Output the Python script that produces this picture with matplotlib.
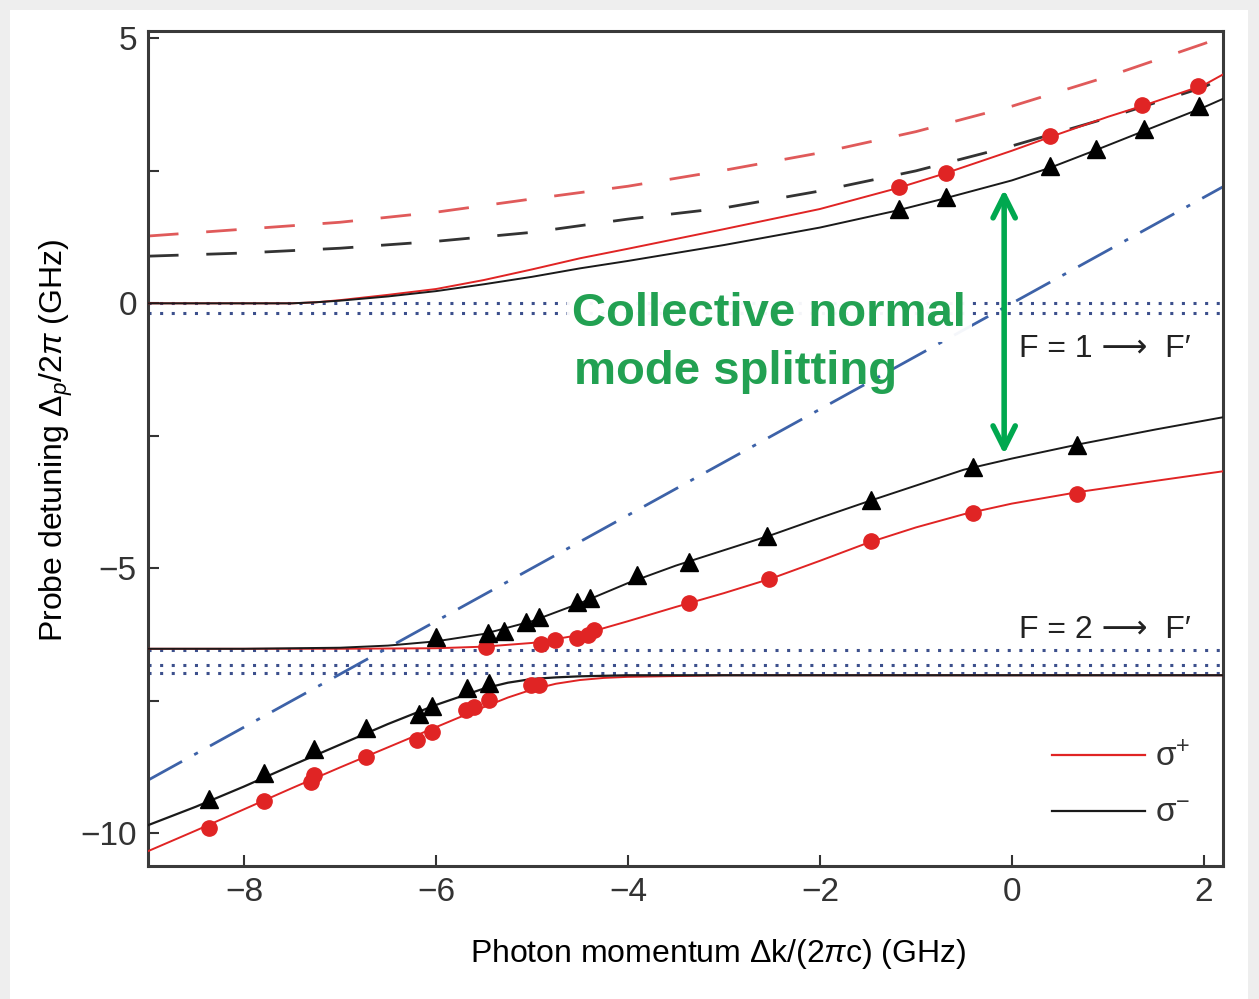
import numpy as np
import matplotlib
matplotlib.use("Agg")
import matplotlib.pyplot as plt
from matplotlib.patches import FancyBboxPatch
from matplotlib.lines import Line2D

plt.rcParams['font.family'] = ['Liberation Sans', 'DejaVu Sans']
plt.rcParams['mathtext.fontset'] = 'custom'
plt.rcParams['mathtext.rm'] = 'Liberation Sans'
plt.rcParams['mathtext.it'] = 'Liberation Sans:italic'

# ---- theory curves ----
up_red_x = [-9, -8, -7.5, -7.25, -7, -6.5, -6, -5.5, -5, -4.5, -4, -3, -2, -1.2, -0.7, 0, 0.4, 1, 1.4, 2, 2.2]
up_red_y = [0, 0, 0, 0.02, 0.06, 0.16, 0.27, 0.44, 0.64, 0.85, 1.03, 1.40, 1.78, 2.17, 2.45, 2.88, 3.14, 3.52, 3.75, 4.12, 4.32]
up_blk_x = [-9, -8, -7.5, -7.25, -7, -6.5, -6, -5.5, -5, -4.5, -4, -3, -2, -1.2, -0.7, 0, 0.4, 0.9, 1.4, 2, 2.2]
up_blk_y = [0, 0, 0, 0.02, 0.05, 0.13, 0.23, 0.36, 0.50, 0.66, 0.80, 1.10, 1.43, 1.75, 1.98, 2.32, 2.56, 2.91, 3.27, 3.70, 3.86]

dash_x = [-9, -8, -7, -6, -5, -4, -3, -2, -1, 0, 1, 2, 2.2]
dash_red_y = [1.27, 1.40, 1.53, 1.72, 1.97, 2.21, 2.51, 2.84, 3.24, 3.72, 4.28, 4.90, 5.03]
dash_blk_y = [0.89, 0.95, 1.04, 1.17, 1.34, 1.59, 1.80, 2.12, 2.50, 2.97, 3.50, 4.08, 4.26]

mid_blk_x = [-9, -8, -7, -6.5, -6, -5.5, -5, -4.5, -4, -3.5, -3, -2.5, -2, -1.5, -1, -0.5, 0, 0.7, 1.5, 2.2]
mid_blk_y = [-6.52, -6.52, -6.50, -6.46, -6.38, -6.24, -6.00, -5.66, -5.28, -4.95, -4.66, -4.37, -4.05, -3.74, -3.44, -3.14, -2.93, -2.66, -2.38, -2.15]
mid_red_x = [-9, -7, -6, -5.5, -5, -4.5, -4, -3.5, -3, -2.5, -2, -1.5, -1, -0.5, 0, 0.7, 1.5, 2.2]
mid_red_y = [-6.52, -6.52, -6.51, -6.48, -6.41, -6.26, -6.00, -5.73, -5.47, -5.19, -4.86, -4.52, -4.23, -3.98, -3.78, -3.56, -3.35, -3.17]

low_x = [-9, -8.5, -8, -7.5, -7, -6.5, -6, -5.5, -5.25, -5, -4.75, -4.5, -4.25, -4, -3, 2.2]
low_blk_y = [-9.85, -9.50, -9.12, -8.72, -8.33, -7.94, -7.58, -7.27, -7.16, -7.09, -7.06, -7.04, -7.03, -7.02, -7.02, -7.02]
low_red_y = [-10.34, -9.95, -9.55, -9.15, -8.76, -8.38, -8.00, -7.62, -7.44, -7.29, -7.18, -7.11, -7.07, -7.05, -7.02, -7.02]

photon_x = [-9, 2.2]
photon_y = [-9, 2.2]

f1_levels = [0.0, -0.19]
f2_levels = [-6.55, -6.82, -6.98]

# ---- measured points ----
red_x = [-1.18, -0.69, 0.40, 1.36, 1.94,
         -5.48, -4.91, -4.76, -4.53, -4.42, -4.35, -3.36, -2.53, -1.47, -0.40, 0.68,
         -8.36, -7.79, -7.30, -7.27, -6.73, -6.20, -6.04, -5.69, -5.60, -5.45, -5.01, -4.93]
red_y = [2.19, 2.46, 3.16, 3.74, 4.10,
         -6.49, -6.43, -6.35, -6.31, -6.26, -6.16, -5.65, -5.20, -4.48, -3.95, -3.59,
         -9.91, -9.40, -9.04, -8.90, -8.56, -8.24, -8.09, -7.67, -7.62, -7.49, -7.20, -7.20]
blk_x = [-1.18, -0.69, 0.40, 0.875, 1.375, 1.95,
         -6.0, -5.46, -5.29, -5.06, -4.93, -4.53, -4.39, -3.91, -3.36, -2.55, -1.47, -0.40, 0.68,
         -8.36, -7.79, -7.27, -6.73, -6.18, -6.04, -5.68, -5.45]
blk_y = [1.78, 2.00, 2.59, 2.91, 3.29, 3.72,
         -6.29, -6.22, -6.18, -6.01, -5.92, -5.63, -5.56, -5.12, -4.88, -4.39, -3.71, -3.08, -2.67,
         -9.36, -8.87, -8.41, -8.02, -7.75, -7.60, -7.26, -7.16]

split_x = -0.08
split_top = 2.15
split_bottom = -2.85

RED = '#e02424'
BLK = '#1a1a1a'
GREEN = '#00a84f'
DOT = '#3c4f8c'

fig = plt.figure(figsize=(12.59, 9.99), dpi=100, facecolor='#eeeeee')
fig.patches.append(FancyBboxPatch((10 / 1259, 0), 1238 / 1259, 989 / 999,
                                  boxstyle='square,pad=0', transform=fig.transFigure,
                                  facecolor='white', edgecolor='none', zorder=-10))
ax = fig.add_axes([148 / 1259, 133 / 999, (1223 - 148) / 1259, (866 - 31) / 999])
ax.set_facecolor('white')

for lv in f1_levels + f2_levels:
    ax.axhline(lv, color=DOT, lw=2.2, ls=(0, (1, 2.8)), zorder=1)

ax.plot(photon_x, photon_y, color='#3d62a8', lw=2, ls=(0, (14, 5, 1.5, 5)), zorder=2)

ax.plot(dash_x, dash_red_y, color='#e05a5a', lw=2, ls=(0, (11, 10)), zorder=2)
ax.plot(dash_x, dash_blk_y, color='#333333', lw=2, ls=(0, (11, 10)), zorder=2)

ax.plot(up_red_x, up_red_y, color=RED, lw=1.4, zorder=3)
ax.plot(mid_red_x, mid_red_y, color=RED, lw=1.4, zorder=3)
ax.plot(low_x, low_red_y, color=RED, lw=1.4, zorder=3)
ax.plot(up_blk_x, up_blk_y, color=BLK, lw=1.4, zorder=3)
ax.plot(mid_blk_x, mid_blk_y, color=BLK, lw=1.4, zorder=3)
ax.plot(low_x, low_blk_y, color=BLK, lw=1.6, zorder=3)

ax.plot(red_x, red_y, 'o', color=RED, ms=11, mec=RED, zorder=4)
ax.plot(blk_x, blk_y, '^', color='black', ms=13, zorder=4)

ax.text(-4.58, -0.2, 'Collective normal', color='#22a152', fontsize=34, fontweight='bold',
        ha='left', va='center', zorder=5,
        bbox=dict(facecolor='white', edgecolor='none', pad=4, alpha=0.95))
ax.text(-4.56, -1.3, 'mode splitting', color='#22a152', fontsize=34, fontweight='bold',
        ha='left', va='center', zorder=5)

ax.annotate('', xy=(split_x, split_top), xytext=(split_x, split_bottom),
            arrowprops=dict(arrowstyle='<->', color=GREEN, lw=4, mutation_scale=40,
                            shrinkA=0, shrinkB=0), zorder=6)

ax.text(0.07, -0.87, 'F = 1 ⟶  F′', fontsize=23, color='#222222', ha='left', va='center',
        family=['Liberation Sans', 'DejaVu Sans'], zorder=5)
ax.text(0.07, -6.16, 'F = 2 ⟶  F′', fontsize=23, color='#222222', ha='left', va='center',
        family=['Liberation Sans', 'DejaVu Sans'], zorder=5)

handles = [Line2D([], [], color=RED, lw=1.6), Line2D([], [], color=BLK, lw=1.6)]
ax.legend(handles, ['σ$^{+}$', 'σ$^{-}$'], loc='lower right', bbox_to_anchor=(0.998, 0.008),
          frameon=False, fontsize=24, handlelength=2.8, handletextpad=0.3,
          labelspacing=0.75, labelcolor='#333333')

ax.set_xlim(-9.0, 2.2)
ax.set_ylim(-10.62, 5.14)
ax.set_xticks([-8, -6, -4, -2, 0, 2])
ax.set_xticklabels(['−8', '−6', '−4', '−2', '0', '2'])
ax.set_yticks([-10, -7.5, -5, -2.5, 0, 2.5, 5])
ax.set_yticklabels(['−10', '', '−5', '', '0', '', '5'])
ax.tick_params(direction='in', length=8, width=1.5, labelsize=24, colors='#333333', pad=8)
for sp in ax.spines.values():
    sp.set_linewidth(2.2)
    sp.set_color('#3a3a3a')

ax.set_xlabel('Photon momentum Δk/(2$\\pi$c) (GHz)', fontsize=23)
ax.set_ylabel('Probe detuning $\\Delta_p/2\\pi$ (GHz)', fontsize=23)
ax.xaxis.set_label_coords(0.53, -0.085)
ax.yaxis.set_label_coords(-0.068, 0.51)

fig.savefig('out.png', dpi=100, facecolor=fig.get_facecolor())
